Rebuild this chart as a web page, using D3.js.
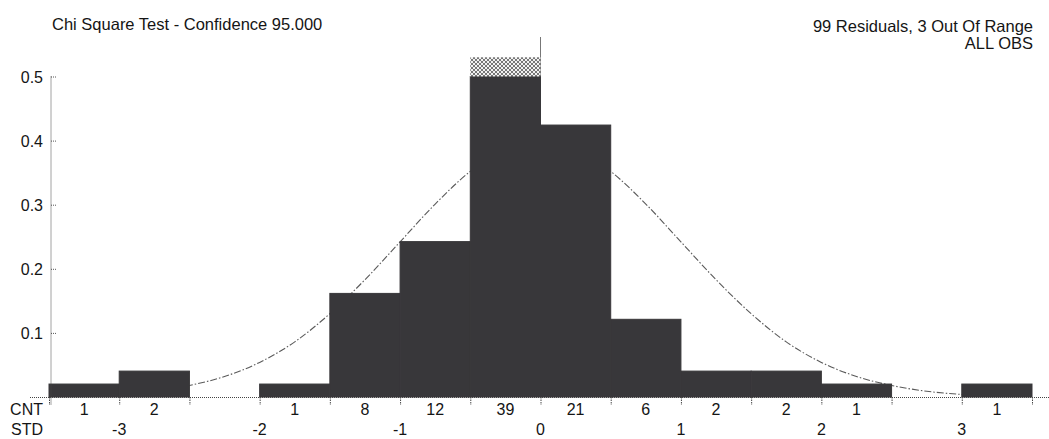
<!DOCTYPE html>
<html>
<head>
<meta charset="utf-8">
<script src="https://cdn.jsdelivr.net/npm/d3@7"></script>
<style>
  body { margin: 0; background: #fff; }
  svg text { font-family: "Liberation Sans", Arial, sans-serif; fill: #151515; }
</style>
</head>
<body>
<div id="chart"></div>
<script>
// Histogram bins (standardized residuals), lower edge of each 0.5 STD bin
const binLo = [-3.5, -3, -2.5, -2, -1.5, -1, -0.5, 0, 0.5, 1, 1.5, 2, 2.5, 3];
const counts = [1, 2, 0, 1, 8, 12, 39, 21, 6, 2, 2, 1, 0, 1];
const binWidth = 0.5;
const nResiduals = 99;

// Reference normal curve
const curveStd = [-3.5, -3.25, -3, -2.75, -2.5, -2.25, -2, -1.75, -1.5, -1.25, -1, -0.75, -0.5, -0.25,
                  0, 0.25, 0.5, 0.75, 1, 1.25, 1.5, 1.75, 2, 2.25, 2.5, 2.75, 3, 3.25, 3.5];
const curveVal = [0.001, 0.002, 0.004, 0.009, 0.018, 0.032, 0.054, 0.086, 0.130, 0.183, 0.242, 0.301, 0.352, 0.387,
                  0.399, 0.387, 0.352, 0.301, 0.242, 0.183, 0.130, 0.086, 0.054, 0.032, 0.018, 0.009, 0.004, 0.002, 0.001];

const yTicks = [0.1, 0.2, 0.3, 0.4, 0.5];
const stdTicks = [-3, -2, -1, 0, 1, 2, 3];

const title = "Chi Square Test - Confidence 95.000";
const infoLines = ["99 Residuals, 3 Out Of Range", "ALL OBS"];

const width = 1049, height = 439;
const yMax = 0.5, yCap = 0.53;

const svg = d3.select("#chart").append("svg")
    .attr("width", width)
    .attr("height", height);

// cross hatch for the out of range cap
const pat = svg.append("defs").append("pattern")
    .attr("id", "hatch")
    .attr("patternUnits", "userSpaceOnUse")
    .attr("width", 4).attr("height", 4);
pat.append("rect").attr("width", 4).attr("height", 4).attr("fill", "#f2f2f2");
pat.append("path").attr("d", "M0,0L4,4M4,0L0,4").attr("stroke", "#6a6a6a").attr("stroke-width", 0.9);

const x = d3.scaleLinear().domain([-3.5, 3.5]).range([49, 1032]);
const y = d3.scaleLinear().domain([0, yMax]).range([397, 76.5]);

const density = counts.map(c => c / (nResiduals * binWidth));
const bins = binLo.map((lo, i) => ({ lo, hi: lo + binWidth, count: counts[i], d: density[i] }));

// titles
svg.append("text").attr("x", 52).attr("y", 30)
    .style("font-size", "16.5px").text(title);
svg.selectAll(".info").data(infoLines).join("text")
    .attr("class", "info")
    .attr("x", 1033).attr("y", (d, i) => 32 + i * 17)
    .attr("text-anchor", "end")
    .style("font-size", "16.5px")
    .text(d => d);

// zero reference line
svg.append("line")
    .attr("x1", x(0)).attr("x2", x(0))
    .attr("y1", 37).attr("y2", y(0))
    .attr("stroke", "#777").attr("stroke-width", 1);

// normal curve (behind bars)
const line = d3.line()
    .x(d => x(d[0]))
    .y(d => y(d[1]))
    .curve(d3.curveMonotoneX);
svg.append("path")
    .datum(curveStd.map((s, i) => [s, curveVal[i]]))
    .attr("d", line)
    .attr("fill", "none")
    .attr("stroke", "#5a5a5a")
    .attr("stroke-width", 1.1)
    .attr("stroke-dasharray", "7,2,1.5,2");

// bars
const gBars = svg.append("g");
gBars.selectAll("rect.bar").data(bins.filter(b => b.count > 0)).join("rect")
    .attr("class", "bar")
    .attr("x", b => x(b.lo))
    .attr("width", b => x(b.hi) - x(b.lo))
    .attr("y", b => y(Math.min(b.d, yMax)))
    .attr("height", b => y(0) - y(Math.min(b.d, yMax)))
    .attr("fill", "#38373a")
    .attr("stroke", "#38373a")
    .attr("stroke-width", 1);

gBars.selectAll("rect.cap").data(bins.filter(b => b.d > yMax)).join("rect")
    .attr("class", "cap")
    .attr("x", b => x(b.lo))
    .attr("width", b => x(b.hi) - x(b.lo))
    .attr("y", y(yCap))
    .attr("height", y(yMax) - y(yCap))
    .attr("fill", "url(#hatch)")
    .attr("stroke", "none");

// y axis
const yAxis = svg.append("g")
    .attr("transform", "translate(51,0)")
    .call(d3.axisRight(y).tickValues(yTicks).tickSize(6).tickFormat(""));
yAxis.select(".domain").remove();
yAxis.selectAll(".tick line").attr("stroke", "#555").attr("stroke-dasharray", "1,1");
svg.append("line")
    .attr("x1", 51).attr("x2", 51)
    .attr("y1", y(yMax)).attr("y2", y(0) + 8)
    .attr("stroke", "#444").attr("stroke-dasharray", "1,1");
svg.selectAll(".ylab").data(yTicks).join("text")
    .attr("class", "ylab")
    .attr("x", 43).attr("y", d => y(d) + 6)
    .attr("text-anchor", "end")
    .style("font-size", "16px")
    .text(d => d3.format(".1f")(d));

// baseline
svg.append("line")
    .attr("x1", 30).attr("x2", width)
    .attr("y1", y(0) + 0.5).attr("y2", y(0) + 0.5)
    .attr("stroke", "#444").attr("stroke-dasharray", "1,1");

// bin edge ticks below the baseline
const edges = binLo.concat([binLo[binLo.length - 1] + binWidth]);
const xAxis = svg.append("g")
    .attr("transform", `translate(0,${y(0)})`)
    .call(d3.axisBottom(x).tickValues(edges).tickSize(8).tickFormat(""));
xAxis.select(".domain").remove();
xAxis.selectAll(".tick line").attr("stroke", "#444").attr("stroke-dasharray", "1.5,1");

// CNT row
svg.append("text").attr("x", 43).attr("y", 415).attr("text-anchor", "end")
    .style("font-size", "16px").text("CNT");
svg.selectAll(".cnt").data(bins.filter(b => b.count > 0)).join("text")
    .attr("class", "cnt")
    .attr("x", b => x(b.lo + binWidth / 2))
    .attr("y", 415)
    .attr("text-anchor", "middle")
    .style("font-size", "16px")
    .text(b => b.count);

// STD row
svg.append("text").attr("x", 43).attr("y", 435).attr("text-anchor", "end")
    .style("font-size", "16px").text("STD");
svg.selectAll(".std").data(stdTicks).join("text")
    .attr("class", "std")
    .attr("x", d => x(d))
    .attr("y", 435)
    .attr("text-anchor", "middle")
    .style("font-size", "16px")
    .text(d => d);
</script>
</body>
</html>
